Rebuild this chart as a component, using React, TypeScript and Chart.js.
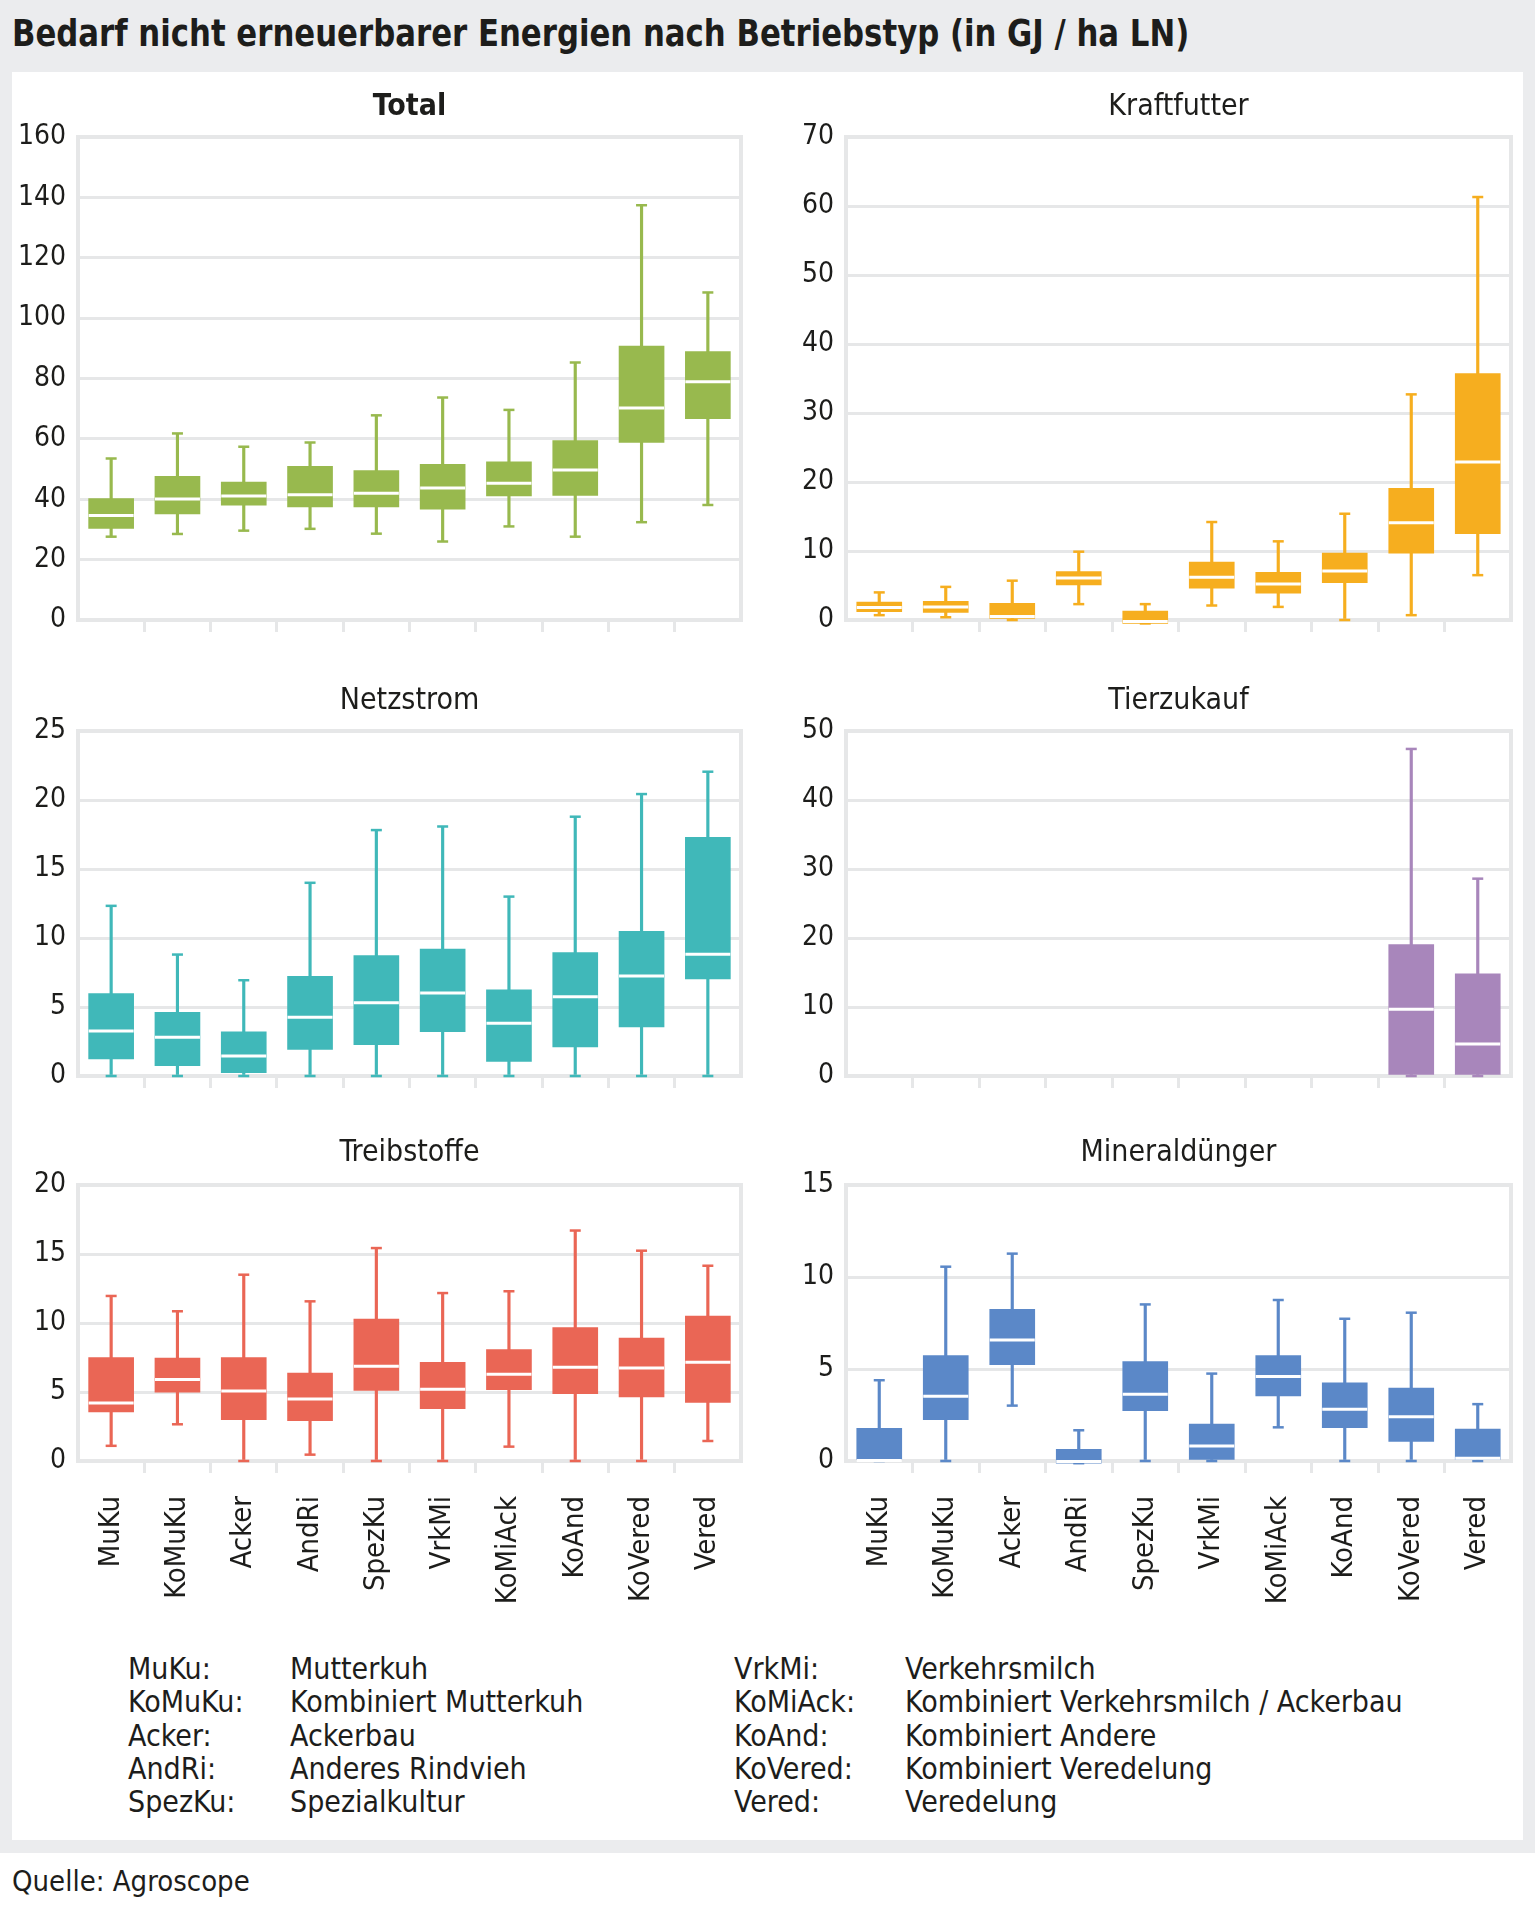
import React, { useEffect, useRef } from 'react';
import { Chart, registerables } from 'chart.js';

Chart.register(...registerables);

const FONT = '"DejaVu Sans Condensed", "DejaVu Sans", sans-serif';
const TEXT = '#1d1d1b';
const GRID = '#e6e7e8';
const PAGE_BG = '#ebecee';

const categories = ['MuKu', 'KoMuKu', 'Acker', 'AndRi', 'SpezKu', 'VrkMi', 'KoMiAck', 'KoAnd', 'KoVered', 'Vered'];

// Total
const totalMin = [27.6, 28.5, 29.6, 30.2, 28.6, 26.0, 31.0, 27.6, 32.4, 38.1];
const totalQ1 = [30.3, 35.1, 38.0, 37.5, 37.5, 36.7, 41.1, 41.3, 58.8, 66.7];
const totalMedian = [34.6, 40.1, 41.1, 41.5, 42.0, 43.7, 45.3, 49.7, 70.2, 78.9];
const totalQ3 = [40.2, 47.6, 45.7, 50.9, 49.5, 51.6, 52.4, 59.4, 90.7, 88.9];
const totalMax = [53.5, 61.8, 57.4, 58.8, 67.8, 73.7, 69.6, 85.3, 137.4, 108.5];

// Kraftfutter
const kraftMin = [0.7, 0.4, 0, 2.3, -0.5, 2.1, 1.9, 0, 0.7, 6.5];
const kraftQ1 = [1.2, 1.1, 0, 5.1, -0.5, 4.6, 3.9, 5.4, 9.7, 12.5];
const kraftMedian = [1.8, 1.9, 0.5, 6.1, -0.2, 6.2, 5.2, 7.1, 14.1, 22.9];
const kraftQ3 = [2.6, 2.7, 2.4, 7.0, 1.3, 8.4, 6.9, 9.7, 19.1, 35.7];
const kraftMax = [4.0, 4.8, 5.7, 9.9, 2.3, 14.2, 11.4, 15.4, 32.7, 61.3];

// Netzstrom
const netzMin = [0, 0, 0, 0, 0, 0, 0, 0, 0, 0];
const netzQ1 = [1.23, 0.75, 0.24, 1.93, 2.27, 3.22, 1.06, 2.1, 3.55, 7.04];
const netzMedian = [3.26, 2.8, 1.45, 4.26, 5.3, 6.02, 3.82, 5.75, 7.25, 8.82];
const netzQ3 = [5.97, 4.62, 3.2, 7.23, 8.73, 9.19, 6.24, 8.95, 10.49, 17.29];
const netzMax = [12.33, 8.8, 6.94, 14.0, 17.82, 18.08, 13.0, 18.79, 20.43, 22.05];

// Tierzukauf
const tierMin = [null, null, null, null, null, null, null, null, 0, 0];
const tierQ1 = [null, null, null, null, null, null, null, null, 0, 0];
const tierMedian = [null, null, null, null, null, null, null, null, 9.67, 4.64];
const tierQ3 = [null, null, null, null, null, null, null, null, 19.05, 14.8];
const tierMax = [null, null, null, null, null, null, null, null, 47.4, 28.6];

// Treibstoffe
const treibMin = [1.1, 2.66, 0, 0.46, 0, 0, 1.04, 0, 0, 1.45];
const treibQ1 = [3.55, 4.98, 3.0, 2.92, 5.12, 3.8, 5.17, 4.88, 4.64, 4.25];
const treibMedian = [4.2, 5.9, 5.07, 4.5, 6.86, 5.2, 6.28, 6.79, 6.74, 7.15];
const treibQ3 = [7.5, 7.46, 7.5, 6.38, 10.29, 7.15, 8.07, 9.66, 8.91, 10.5];
const treibMax = [11.96, 10.85, 13.5, 11.57, 15.43, 12.17, 12.3, 16.7, 15.24, 14.15];

// Mineraldünger
const mineralMin = [0, 0, 3.01, -0.12, 0, 0, 1.83, 0, 0, 0];
const mineralQ1 = [0, 2.25, 5.24, -0.12, 2.74, 0, 3.54, 1.81, 1.07, 0];
const mineralMedian = [0.03, 3.52, 6.57, -0.03, 3.63, 0.82, 4.59, 2.81, 2.41, 0.15];
const mineralQ3 = [1.78, 5.73, 8.24, 0.64, 5.41, 2.0, 5.73, 4.25, 3.96, 1.74];
const mineralMax = [4.39, 10.56, 11.27, 1.67, 8.51, 4.75, 8.75, 7.73, 8.06, 3.09];

const legendLeftKeys = ['MuKu:', 'KoMuKu:', 'Acker:', 'AndRi:', 'SpezKu:'];
const legendLeftNames = ['Mutterkuh', 'Kombiniert Mutterkuh', 'Ackerbau', 'Anderes Rindvieh', 'Spezialkultur'];
const legendRightKeys = ['VrkMi:', 'KoMiAck:', 'KoAnd:', 'KoVered:', 'Vered:'];
const legendRightNames = ['Verkehrsmilch', 'Kombiniert Verkehrsmilch / Ackerbau', 'Kombiniert Andere', 'Kombiniert Veredelung', 'Veredelung'];

type Num = number | null;
type Panel = {
  title: string;
  bold: boolean;
  color: string;
  yMax: number;
  step: number;
  min: Num[];
  q1: Num[];
  median: Num[];
  q3: Num[];
  max: Num[];
};

const panels: Panel[] = [
  { title: 'Total', bold: true, color: '#98b94e', yMax: 160, step: 20, min: totalMin, q1: totalQ1, median: totalMedian, q3: totalQ3, max: totalMax },
  { title: 'Kraftfutter', bold: false, color: '#f6ae1f', yMax: 70, step: 10, min: kraftMin, q1: kraftQ1, median: kraftMedian, q3: kraftQ3, max: kraftMax },
  { title: 'Netzstrom', bold: false, color: '#40b8b9', yMax: 25, step: 5, min: netzMin, q1: netzQ1, median: netzMedian, q3: netzQ3, max: netzMax },
  { title: 'Tierzukauf', bold: false, color: '#a886bb', yMax: 50, step: 10, min: tierMin, q1: tierQ1, median: tierMedian, q3: tierQ3, max: tierMax },
  { title: 'Treibstoffe', bold: false, color: '#ea6655', yMax: 20, step: 5, min: treibMin, q1: treibQ1, median: treibMedian, q3: treibQ3, max: treibMax },
  { title: 'Mineraldünger', bold: false, color: '#5b88c8', yMax: 15, step: 5, min: mineralMin, q1: mineralQ1, median: mineralMedian, q3: mineralQ3, max: mineralMax },
];

// layout of the six canvases on the page
const colLeft = [12, 768];
const colWidth = [756, 755];
const yAxisWidth = [66, 78];
const padRight = [27, 12];
const rowTop = [72, 660, 1110];
const rowHeight = [568, 436, 521];
const titlePadTop = [17, 23, 25];
const titlePadBottom = [12, 12, 14];
const xAxisHeight = [20, 20, 170];

const framePlugin = {
  id: 'plotFrame',
  beforeDatasetsDraw(chart: any) {
    const { ctx, chartArea: a } = chart;
    ctx.save();
    ctx.strokeStyle = GRID;
    ctx.lineWidth = 4;
    ctx.strokeRect(a.left, a.top, a.right - a.left, a.bottom - a.top);
    ctx.restore();
  },
};

function BoxPanel({ panel, col, row }: { panel: Panel; col: number; row: number }) {
  const ref = useRef<HTMLCanvasElement | null>(null);
  useEffect(() => {
    if (!ref.current) return;
    const p = panel;
    const boxes = p.q1.map((v, i) => (v == null || p.q3[i] == null ? null : [v, p.q3[i] as number]));
    const whiskers = p.min.map((v, i) => (v == null || p.max[i] == null ? null : [v, p.max[i] as number]));
    const pointDs = (data: Num[], color: string, radius: number, width: number, order: number) => ({
      type: 'line' as const,
      data,
      showLine: false,
      pointStyle: 'line',
      pointRadius: radius,
      pointHoverRadius: radius,
      pointBorderWidth: width,
      pointHoverBorderWidth: width,
      borderColor: color,
      pointBorderColor: color,
      backgroundColor: color,
      pointBackgroundColor: color,
      order,
      clip: false,
    });
    const chart = new Chart(ref.current, {
      type: 'bar',
      data: {
        labels: categories,
        datasets: [
          pointDs(p.median, '#ffffff', 22.5, 3, 0) as any,
          pointDs(p.max, p.color, 5.5, 2.5, 1) as any,
          pointDs(p.min, p.color, 5.5, 2.5, 1) as any,
          {
            type: 'bar',
            data: boxes as any,
            backgroundColor: p.color,
            borderWidth: 0,
            barThickness: 45,
            grouped: false,
            order: 2,
            clip: false,
          } as any,
          {
            type: 'bar',
            data: whiskers as any,
            backgroundColor: p.color,
            borderWidth: 0,
            barThickness: 2.5,
            grouped: false,
            order: 3,
            clip: false,
          } as any,
        ],
      },
      options: {
        responsive: false,
        animation: false,
        devicePixelRatio: 1,
        events: [],
        layout: { autoPadding: false, padding: { left: 0, right: padRight[col], top: 0, bottom: 0 } },
        plugins: {
          legend: { display: false },
          tooltip: { enabled: false },
          title: {
            display: true,
            text: p.title,
            fullSize: false,
            color: TEXT,
            font: { family: FONT, size: 30, weight: p.bold ? 'bold' : 'normal', lineHeight: 1.2 },
            padding: { top: titlePadTop[row], bottom: titlePadBottom[row] },
          },
        },
        scales: {
          x: {
            type: 'category',
            offset: true,
            border: { display: false },
            grid: {
              offset: true,
              drawOnChartArea: false,
              drawTicks: true,
              tickLength: 12,
              lineWidth: 3,
              color: (c: any) => (c.type !== 'tick' || c.index === 0 ? 'rgba(0,0,0,0)' : GRID),
            },
            ticks: {
              display: row === 2,
              autoSkip: false,
              maxRotation: 90,
              minRotation: 90,
              padding: 23,
              color: TEXT,
              font: { family: FONT, size: 29 },
            },
            afterFit: (s: any) => {
              s.height = xAxisHeight[row];
              s.paddingLeft = 0;
              s.paddingRight = 0;
            },
          },
          y: {
            min: 0,
            max: p.yMax,
            border: { display: false },
            grid: { color: GRID, lineWidth: 3, drawTicks: false },
            ticks: {
              stepSize: p.step,
              padding: 12,
              color: TEXT,
              font: { family: FONT, size: 28 },
            },
            afterFit: (s: any) => {
              s.width = yAxisWidth[col];
              s.paddingTop = 0;
              s.paddingBottom = 0;
            },
          },
        },
      } as any,
      plugins: [framePlugin],
    });
    return () => chart.destroy();
  }, [panel, col, row]);

  return (
    <canvas
      ref={ref}
      width={colWidth[col]}
      height={rowHeight[row]}
      style={{
        position: 'absolute',
        left: colLeft[col],
        top: rowTop[row],
        width: colWidth[col],
        height: rowHeight[row],
      }}
    />
  );
}

export default function App() {
  const legendTop = 1652;
  const legendLine = 33.3;
  const legendCol = (keys: string[], names: string[], xKey: number, xName: number) =>
    keys.map((k, i) => (
      <React.Fragment key={k}>
        <div style={{ position: 'absolute', left: xKey, top: legendTop + i * legendLine, lineHeight: legendLine + 'px', fontSize: 30, whiteSpace: 'nowrap' }}>{k}</div>
        <div style={{ position: 'absolute', left: xName, top: legendTop + i * legendLine, lineHeight: legendLine + 'px', fontSize: 30, whiteSpace: 'nowrap' }}>{names[i]}</div>
      </React.Fragment>
    ));

  return (
    <div
      style={{
        position: 'absolute',
        left: 0,
        top: 0,
        width: 1535,
        height: 1906,
        background: '#ffffff',
        fontFamily: FONT,
        color: TEXT,
        overflow: 'hidden',
      }}
    >
      <div style={{ position: 'absolute', left: 0, top: 0, width: 1535, height: 1853, background: PAGE_BG }} />
      <div
        style={{
          position: 'absolute',
          left: 12,
          top: 14,
          fontSize: 38,
          lineHeight: '38px',
          fontWeight: 'bold',
          whiteSpace: 'nowrap',
          transform: 'scaleX(0.9)',
          transformOrigin: 'left top',
        }}
      >
        Bedarf nicht erneuerbarer Energien nach Betriebstyp (in GJ / ha LN)
      </div>
      <div style={{ position: 'absolute', left: 12, top: 72, width: 1511, height: 1768, background: '#ffffff' }} />
      {panels.map((p, i) => (
        <BoxPanel key={p.title} panel={p} col={i % 2} row={Math.floor(i / 2)} />
      ))}
      {legendCol(legendLeftKeys, legendLeftNames, 128, 290)}
      {legendCol(legendRightKeys, legendRightNames, 734, 905)}
      <div style={{ position: 'absolute', left: 12, top: 1867, fontSize: 29, lineHeight: '29px', whiteSpace: 'nowrap' }}>
        Quelle: Agroscope
      </div>
    </div>
  );
}
